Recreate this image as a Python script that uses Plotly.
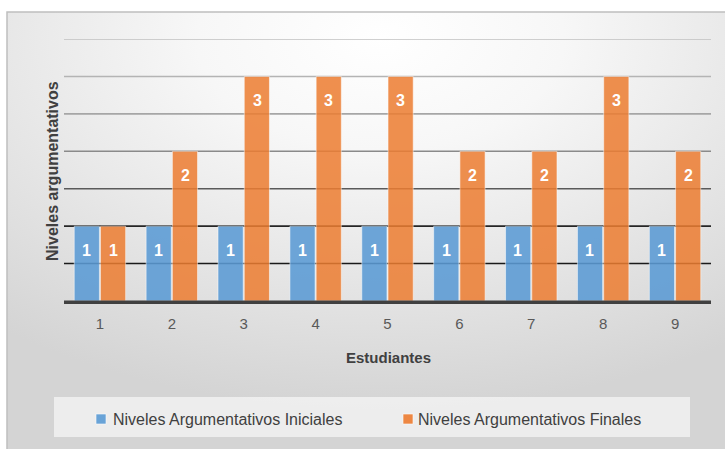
import base64
import plotly.graph_objects as go

# Data
students = ["1", "2", "3", "4", "5", "6", "7", "8", "9"]
initial_levels = [1, 1, 1, 1, 1, 1, 1, 1, 1]
final_levels = [1, 2, 3, 3, 3, 2, 2, 3, 2]
series_names = ["Niveles Argumentativos Iniciales", "Niveles Argumentativos Finales"]
grid_levels = [0.5, 1, 1.5, 2, 2.5, 3, 3.5]
grid_colors = ["#1a1a1a", "#262626", "#5a5a5a", "#8a8a8a", "#a6a6a6", "#b4b4b4", "#c0c0c0"]

BLUE = "#5B9BD5"
ORANGE = "#ED7D31"
W, H = 725, 449
L, R, T, B = 64, 711, 39, 301  # plot area in pixels


def px(x):
    """pixel x -> paper x (paper spans the plot area)"""
    return (x - L) / (R - L)


def py(y):
    """pixel y -> paper y"""
    return (B - y) / (B - T)


# Radial background of the chart frame
svg = (
    '<svg xmlns="http://www.w3.org/2000/svg" width="718" height="437" viewBox="0 0 718 437" preserveAspectRatio="none">'
    '<defs><radialGradient id="g" cx="0.52" cy="0.06" r="0.85" fx="0.52" fy="0.06">'
    '<stop offset="0" stop-color="#ffffff"/>'
    '<stop offset="0.3" stop-color="#f7f7f7"/>'
    '<stop offset="1" stop-color="#d4d4d4"/>'
    '</radialGradient></defs>'
    '<rect width="718" height="437" fill="url(#g)"/></svg>'
)
bg_uri = "data:image/svg+xml;base64," + base64.b64encode(svg.encode()).decode()

fig = go.Figure()
fig.add_bar(x=students, y=initial_levels, name=series_names[0],
            marker=dict(color=BLUE, opacity=0.88, line=dict(color="rgba(255,255,255,0.55)", width=1)),
            showlegend=False, hoverinfo="skip")
fig.add_bar(x=students, y=final_levels, name=series_names[1],
            marker=dict(color=ORANGE, opacity=0.85, line=dict(color="rgba(255,255,255,0.55)", width=1)),
            showlegend=False, hoverinfo="skip")

annotations = []
# value labels near the top of each bar
for i, (a, b) in enumerate(zip(initial_levels, final_levels)):
    for off, v in ((-0.185, a), (0.185, b)):
        annotations.append(dict(x=i + off, y=v, xref="x", yref="y", text=f"<b>{v}</b>",
                                showarrow=False, yshift=-24, xanchor="center", yanchor="middle",
                                font=dict(family="Liberation Sans", size=16, color="white")))

# axis titles
annotations.append(dict(x=px(52), y=py(171), xref="paper", yref="paper",
                        xanchor="center", yanchor="middle",
                        text="<b>Niveles argumentativos</b>", textangle=-90, showarrow=False,
                        font=dict(family="Liberation Sans", size=16, color="#404040")))
annotations.append(dict(x=px(388), y=py(357), xref="paper", yref="paper",
                        xanchor="center", yanchor="middle",
                        text="<b>Estudiantes</b>", showarrow=False,
                        font=dict(family="Liberation Sans", size=15, color="#404040")))

# legend entries
legend_items = [(96, 111, BLUE, series_names[0]), (403, 416, ORANGE, series_names[1])]
shapes = []
for sq_x, tx, col, name in legend_items:
    shapes.append(dict(type="rect", xref="paper", yref="paper",
                       x0=px(sq_x), x1=px(sq_x + 10), y0=py(424), y1=py(414),
                       fillcolor=col, opacity=0.9, line=dict(color="rgba(255,255,255,0.6)", width=1)))
    annotations.append(dict(x=px(tx), y=py(419), xref="paper", yref="paper", xanchor="left",
                            yanchor="middle", text=name, showarrow=False,
                            font=dict(family="Liberation Sans", size=16, color="#404040")))

# legend box
shapes.append(dict(type="rect", xref="paper", yref="paper", layer="below",
                   x0=px(54), x1=px(690), y0=py(437), y1=py(397),
                   fillcolor="rgba(246,246,246,0.75)", line=dict(width=0)))
# chart frame
shapes.append(dict(type="rect", xref="paper", yref="paper", layer="above",
                   x0=px(7), x1=px(730), y0=py(455), y1=py(12),
                   fillcolor="rgba(0,0,0,0)", line=dict(color="#bfbfbf", width=1.5)))
# horizontal gridlines
for lvl, col in zip(grid_levels, grid_colors):
    shapes.append(dict(type="line", xref="x domain", yref="y", layer="below",
                       x0=0, x1=1, y0=lvl, y1=lvl, line=dict(color=col, width=1.6)))
# category axis baseline
shapes.append(dict(type="line", xref="paper", yref="paper", layer="above",
                   x0=0, x1=1, y0=py(302.2), y1=py(302.2), line=dict(color="#404040", width=3.5)))

fig.update_layout(
    width=W, height=H,
    margin=dict(l=L, r=W - R, t=T, b=H - B),
    paper_bgcolor="white", plot_bgcolor="rgba(0,0,0,0)",
    barmode="group", bargap=0.27, bargroupgap=0.04,
    images=[dict(source=bg_uri, xref="paper", yref="paper", x=px(7), y=py(12),
                 sizex=px(725) - px(7), sizey=py(12) - py(449), xanchor="left", yanchor="top",
                 sizing="stretch", layer="below")],
    shapes=shapes, annotations=annotations,
    xaxis=dict(type="category", range=[-0.5, 8.5], showgrid=False, ticks="",
               showline=False,
               tickfont=dict(family="Liberation Sans", size=15, color="#595959"),
               ticklabelstandoff=12),
    yaxis=dict(range=[0, 3.5], showgrid=False, showticklabels=False, zeroline=False),
)

fig.write_html("out.html")
